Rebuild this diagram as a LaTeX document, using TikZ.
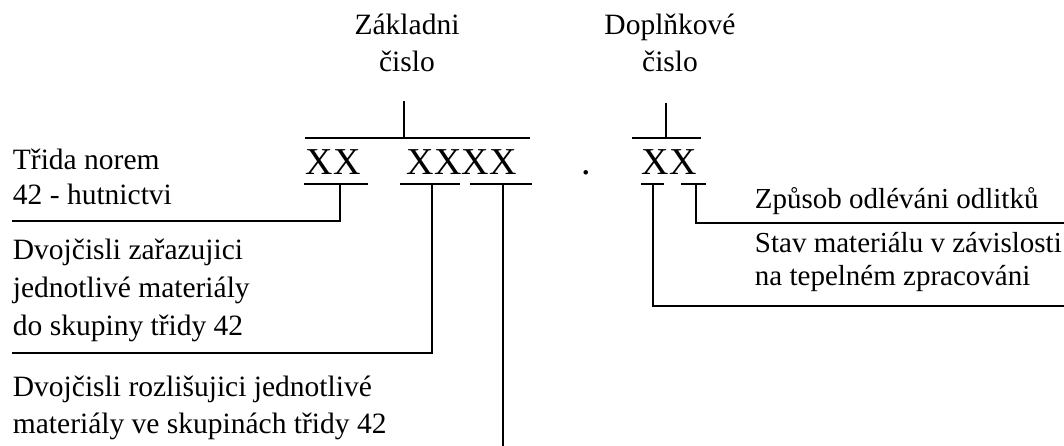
\documentclass[tikz,border=0pt]{standalone}
\usepackage{fontspec}
\setmainfont{Liberation Serif}
\usetikzlibrary{positioning}
\tikzset{
  txt/.style={anchor=base west, inner sep=0pt, font=\fontsize{29.5}{35}\selectfont},
  txtr/.style={anchor=base west, inner sep=0pt, font=\fontsize{29}{35}\selectfont},
  nadpis/.style={anchor=base, inner sep=0pt, font=\fontsize{29.5}{35}\selectfont},
  kod/.style={anchor=base west, inner sep=0pt, font=\fontsize{38}{44}\selectfont},
  car/.style={line width=1.9pt}
}
\begin{document}
\begin{tikzpicture}[x=1pt, y=-1pt, car]
\useasboundingbox (0,0) rectangle (1064,446);
% nadpisy
\node[nadpis](Z1) at (407,35){Základni};
\node[nadpis](Z2) at (407,72){čislo};
\node[nadpis](D1) at (670,35){Doplňkové};
\node[nadpis](D2) at (670,72){čislo};
% kod
\node[kod](K1) at (305,175){XX};
\node[kod](K2) at (406,175){XXXX};
\node[kod](T) at (581,175){.};
\node[kod](K3) at (641,175){XX};
% popisy vlevo
\node[txt](A1) at (12,170){Třida norem};
\node[txt](A2) at (12,205){42 - hutnictvi};
\node[txt](B1) at (12,259){Dvojčisli zařazujici};
\node[txt](B2) at (12,297){jednotlivé materiály};
\node[txt](B3) at (12,335){do skupiny třidy 42};
\node[txt](C1) at (12,396){Dvojčisli rozlišujici jednotlivé};
\node[txt](C2) at (12,433){materiály ve skupinách třidy 42};
% popisy vpravo
\node[txtr](E1) at (754,208){Způsob odléváni odlitků};
\node[txtr](F1) at (754,252){Stav materiálu v závislosti};
\node[txtr](F2) at (754,285){na tepelném zpracováni};
% zavorky nahore
\coordinate (zt) at (404,101);
\coordinate (zl) at (305,138);
\coordinate (zr) at (530,138);
\coordinate (dt) at (666,103);
\coordinate (dl) at (632,138);
\coordinate (dr) at (701,138);
\draw (zt)--(zt|-zl);
\draw (zl)--(zr);
\draw (dt)--(dt|-dl);
\draw (dl)--(dr);
% podtrzeni
\coordinate (u1l) at (304,184); \coordinate (u1r) at (368,184);
\coordinate (u2l) at (400,184); \coordinate (u2r) at (460,184);
\coordinate (u3l) at (470,184); \coordinate (u3r) at (532,184);
\coordinate (u4l) at (641,184); \coordinate (u4r) at (664,184);
\coordinate (u5l) at (681,184); \coordinate (u5r) at (706,184);
\draw (u1l)--(u1r);
\draw (u2l)--(u2r);
\draw (u3l)--(u3r);
\draw (u4l)--(u4r);
\draw (u5l)--(u5r);
% spojnice
\coordinate (v1) at (340,184); \coordinate (c1) at (12,221);
\coordinate (v2) at (432,184); \coordinate (c2) at (12,353);
\coordinate (v3) at (503,184); \coordinate (c3) at (503,446);
\coordinate (v4) at (653,184); \coordinate (c4) at (1064,306);
\coordinate (v5) at (696,184); \coordinate (c5) at (1064,223);
\draw (v1)|-(c1);
\draw (v2)|-(c2);
\draw (v3)--(c3);
\draw (v4)|-(c4);
\draw (v5)|-(c5);
\end{tikzpicture}
\end{document}
